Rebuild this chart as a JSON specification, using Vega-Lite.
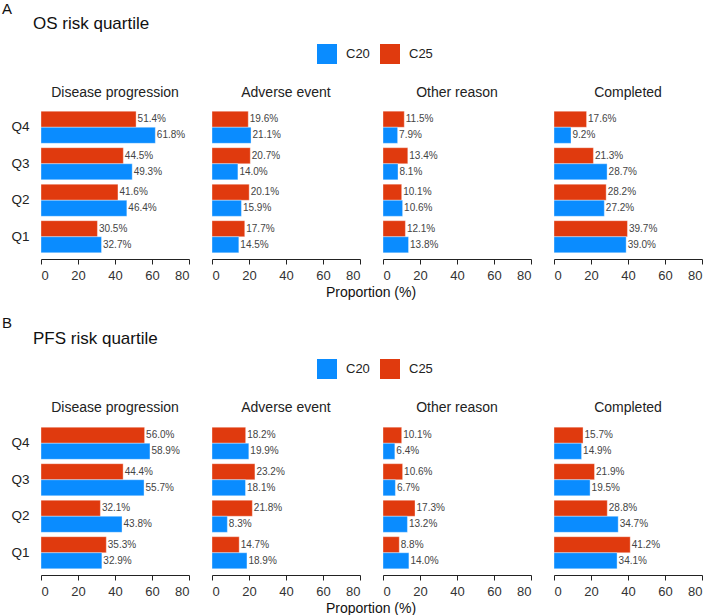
{
  "$schema": "https://vega.github.io/schema/vega-lite/v6.json",
  "background": "white",
  "padding": {"left": 1, "top": 2, "right": 0, "bottom": 0},
  "config": {
    "font": "Liberation Sans",
    "view": {"stroke": null},
    "title": {"anchor": "start", "fontWeight": "normal", "color": "#111"},
    "legend": {"labelFontSize": 13, "labelColor": "#222", "symbolType": "square", "symbolSize": 400, "symbolStrokeWidth": 0, "columnPadding": 10, "labelOffset": 9},
    "header": {"labelFontSize": 14, "labelColor": "#222", "titleFontSize": 14, "titleColor": "#111", "titleFontWeight": "normal"}
  },
  "datasets": {
    "os": [
      {"reason": "Disease progression", "quartile": "Q4", "arm": "C25", "pct": 51.4},
      {"reason": "Disease progression", "quartile": "Q4", "arm": "C20", "pct": 61.8},
      {"reason": "Disease progression", "quartile": "Q3", "arm": "C25", "pct": 44.5},
      {"reason": "Disease progression", "quartile": "Q3", "arm": "C20", "pct": 49.3},
      {"reason": "Disease progression", "quartile": "Q2", "arm": "C25", "pct": 41.6},
      {"reason": "Disease progression", "quartile": "Q2", "arm": "C20", "pct": 46.4},
      {"reason": "Disease progression", "quartile": "Q1", "arm": "C25", "pct": 30.5},
      {"reason": "Disease progression", "quartile": "Q1", "arm": "C20", "pct": 32.7},
      {"reason": "Adverse event", "quartile": "Q4", "arm": "C25", "pct": 19.6},
      {"reason": "Adverse event", "quartile": "Q4", "arm": "C20", "pct": 21.1},
      {"reason": "Adverse event", "quartile": "Q3", "arm": "C25", "pct": 20.7},
      {"reason": "Adverse event", "quartile": "Q3", "arm": "C20", "pct": 14.0},
      {"reason": "Adverse event", "quartile": "Q2", "arm": "C25", "pct": 20.1},
      {"reason": "Adverse event", "quartile": "Q2", "arm": "C20", "pct": 15.9},
      {"reason": "Adverse event", "quartile": "Q1", "arm": "C25", "pct": 17.7},
      {"reason": "Adverse event", "quartile": "Q1", "arm": "C20", "pct": 14.5},
      {"reason": "Other reason", "quartile": "Q4", "arm": "C25", "pct": 11.5},
      {"reason": "Other reason", "quartile": "Q4", "arm": "C20", "pct": 7.9},
      {"reason": "Other reason", "quartile": "Q3", "arm": "C25", "pct": 13.4},
      {"reason": "Other reason", "quartile": "Q3", "arm": "C20", "pct": 8.1},
      {"reason": "Other reason", "quartile": "Q2", "arm": "C25", "pct": 10.1},
      {"reason": "Other reason", "quartile": "Q2", "arm": "C20", "pct": 10.6},
      {"reason": "Other reason", "quartile": "Q1", "arm": "C25", "pct": 12.1},
      {"reason": "Other reason", "quartile": "Q1", "arm": "C20", "pct": 13.8},
      {"reason": "Completed", "quartile": "Q4", "arm": "C25", "pct": 17.6},
      {"reason": "Completed", "quartile": "Q4", "arm": "C20", "pct": 9.2},
      {"reason": "Completed", "quartile": "Q3", "arm": "C25", "pct": 21.3},
      {"reason": "Completed", "quartile": "Q3", "arm": "C20", "pct": 28.7},
      {"reason": "Completed", "quartile": "Q2", "arm": "C25", "pct": 28.2},
      {"reason": "Completed", "quartile": "Q2", "arm": "C20", "pct": 27.2},
      {"reason": "Completed", "quartile": "Q1", "arm": "C25", "pct": 39.7},
      {"reason": "Completed", "quartile": "Q1", "arm": "C20", "pct": 39.0}
    ],
    "pfs": [
      {"reason": "Disease progression", "quartile": "Q4", "arm": "C25", "pct": 56.0},
      {"reason": "Disease progression", "quartile": "Q4", "arm": "C20", "pct": 58.9},
      {"reason": "Disease progression", "quartile": "Q3", "arm": "C25", "pct": 44.4},
      {"reason": "Disease progression", "quartile": "Q3", "arm": "C20", "pct": 55.7},
      {"reason": "Disease progression", "quartile": "Q2", "arm": "C25", "pct": 32.1},
      {"reason": "Disease progression", "quartile": "Q2", "arm": "C20", "pct": 43.8},
      {"reason": "Disease progression", "quartile": "Q1", "arm": "C25", "pct": 35.3},
      {"reason": "Disease progression", "quartile": "Q1", "arm": "C20", "pct": 32.9},
      {"reason": "Adverse event", "quartile": "Q4", "arm": "C25", "pct": 18.2},
      {"reason": "Adverse event", "quartile": "Q4", "arm": "C20", "pct": 19.9},
      {"reason": "Adverse event", "quartile": "Q3", "arm": "C25", "pct": 23.2},
      {"reason": "Adverse event", "quartile": "Q3", "arm": "C20", "pct": 18.1},
      {"reason": "Adverse event", "quartile": "Q2", "arm": "C25", "pct": 21.8},
      {"reason": "Adverse event", "quartile": "Q2", "arm": "C20", "pct": 8.3},
      {"reason": "Adverse event", "quartile": "Q1", "arm": "C25", "pct": 14.7},
      {"reason": "Adverse event", "quartile": "Q1", "arm": "C20", "pct": 18.9},
      {"reason": "Other reason", "quartile": "Q4", "arm": "C25", "pct": 10.1},
      {"reason": "Other reason", "quartile": "Q4", "arm": "C20", "pct": 6.4},
      {"reason": "Other reason", "quartile": "Q3", "arm": "C25", "pct": 10.6},
      {"reason": "Other reason", "quartile": "Q3", "arm": "C20", "pct": 6.7},
      {"reason": "Other reason", "quartile": "Q2", "arm": "C25", "pct": 17.3},
      {"reason": "Other reason", "quartile": "Q2", "arm": "C20", "pct": 13.2},
      {"reason": "Other reason", "quartile": "Q1", "arm": "C25", "pct": 8.8},
      {"reason": "Other reason", "quartile": "Q1", "arm": "C20", "pct": 14.0},
      {"reason": "Completed", "quartile": "Q4", "arm": "C25", "pct": 15.7},
      {"reason": "Completed", "quartile": "Q4", "arm": "C20", "pct": 14.9},
      {"reason": "Completed", "quartile": "Q3", "arm": "C25", "pct": 21.9},
      {"reason": "Completed", "quartile": "Q3", "arm": "C20", "pct": 19.5},
      {"reason": "Completed", "quartile": "Q2", "arm": "C25", "pct": 28.8},
      {"reason": "Completed", "quartile": "Q2", "arm": "C20", "pct": 34.7},
      {"reason": "Completed", "quartile": "Q1", "arm": "C25", "pct": 41.2},
      {"reason": "Completed", "quartile": "Q1", "arm": "C20", "pct": 34.1}
    ]
  },
  "resolve": {"scale": {"color": "independent"}, "legend": {"color": "independent"}},
  "spacing": 16,
  "vconcat": [
    {
      "title": {"text": "A", "fontSize": 15, "offset": -2, "dx": -9},
      "resolve": {"scale": {"color": "independent"}, "legend": {"color": "independent"}},
      "vconcat": [
        {
          "data": {"name": "os"},
          "transform": [{"calculate": "format(datum.pct, '.1f') + '%'", "as": "label"}],
          "title": {"text": "OS risk quartile", "fontSize": 17, "dx": 22, "offset": 11},
          "facet": {
            "column": {
              "field": "reason",
              "sort": ["Disease progression", "Adverse event", "Other reason", "Completed"],
              "title": "Proportion (%)",
              "header": {"labelOrient": "top", "titleOrient": "bottom", "labelPadding": 9, "titlePadding": -6}
            }
          },
          "spacing": 22,
          "spec": {
            "width": 148,
            "height": 146,
            "encoding": {
              "y": {
                "field": "quartile", "type": "nominal", "sort": ["Q4", "Q3", "Q2", "Q1"], "title": null,
                "scale": {"paddingInner": 0.12, "paddingOuter": 0.06},
                "axis": {"domain": false, "ticks": false, "labelFontSize": 13.5, "labelColor": "#222", "labelPadding": 11}
              },
              "yOffset": {"field": "arm", "type": "nominal", "scale": {"domain": ["C25", "C20"], "paddingInner": 0, "paddingOuter": 0}},
              "x": {
                "field": "pct", "type": "quantitative", "title": null,
                "scale": {"domain": [0, 80], "nice": false},
                "axis": {"values": [0, 20, 40, 60, 80], "grid": false, "domainColor": "#222", "tickColor": "#222", "tickSize": 5, "labelFontSize": 13, "labelColor": "#333", "offset": 4, "labelPadding": 5}
              }
            },
            "layer": [
              {
                "mark": {"type": "bar", "stroke": "white", "strokeWidth": 0.6, "strokeOpacity": 0.6},
                "encoding": {
                  "color": {
                    "field": "arm", "type": "nominal", "title": null,
                    "scale": {"domain": ["C20", "C25"], "range": ["#0A8CFF", "#E03A0E"]},
                    "legend": {"orient": "none", "direction": "horizontal", "legendX": 276, "legendY": -65}
                  }
                }
              },
              {
                "mark": {"type": "text", "align": "left", "baseline": "middle", "dx": 1.5, "fontSize": 10, "color": "#444"},
                "encoding": {"text": {"field": "label"}}
              }
            ]
          }
        }
      ]
    },
    {
      "title": {"text": "B", "fontSize": 15, "offset": -1, "dx": -9},
      "resolve": {"scale": {"color": "independent"}, "legend": {"color": "independent"}},
      "vconcat": [
        {
          "data": {"name": "pfs"},
          "transform": [{"calculate": "format(datum.pct, '.1f') + '%'", "as": "label"}],
          "title": {"text": "PFS risk quartile", "fontSize": 17, "dx": 22, "offset": 11},
          "facet": {
            "column": {
              "field": "reason",
              "sort": ["Disease progression", "Adverse event", "Other reason", "Completed"],
              "title": "Proportion (%)",
              "header": {"labelOrient": "top", "titleOrient": "bottom", "labelPadding": 10, "titlePadding": -6}
            }
          },
          "spacing": 22,
          "spec": {
            "width": 148,
            "height": 146,
            "encoding": {
              "y": {
                "field": "quartile", "type": "nominal", "sort": ["Q4", "Q3", "Q2", "Q1"], "title": null,
                "scale": {"paddingInner": 0.12, "paddingOuter": 0.06},
                "axis": {"domain": false, "ticks": false, "labelFontSize": 13.5, "labelColor": "#222", "labelPadding": 11}
              },
              "yOffset": {"field": "arm", "type": "nominal", "scale": {"domain": ["C25", "C20"], "paddingInner": 0, "paddingOuter": 0}},
              "x": {
                "field": "pct", "type": "quantitative", "title": null,
                "scale": {"domain": [0, 80], "nice": false},
                "axis": {"values": [0, 20, 40, 60, 80], "grid": false, "domainColor": "#222", "tickColor": "#222", "tickSize": 5, "labelFontSize": 13, "labelColor": "#333", "offset": 4, "labelPadding": 5}
              }
            },
            "layer": [
              {
                "mark": {"type": "bar", "stroke": "white", "strokeWidth": 0.6, "strokeOpacity": 0.6},
                "encoding": {
                  "color": {
                    "field": "arm", "type": "nominal", "title": null,
                    "scale": {"domain": ["C20", "C25"], "range": ["#0A8CFF", "#E03A0E"]},
                    "legend": {"orient": "none", "direction": "horizontal", "legendX": 276, "legendY": -66}
                  }
                }
              },
              {
                "mark": {"type": "text", "align": "left", "baseline": "middle", "dx": 1.5, "fontSize": 10, "color": "#444"},
                "encoding": {"text": {"field": "label"}}
              }
            ]
          }
        }
      ]
    }
  ]
}
